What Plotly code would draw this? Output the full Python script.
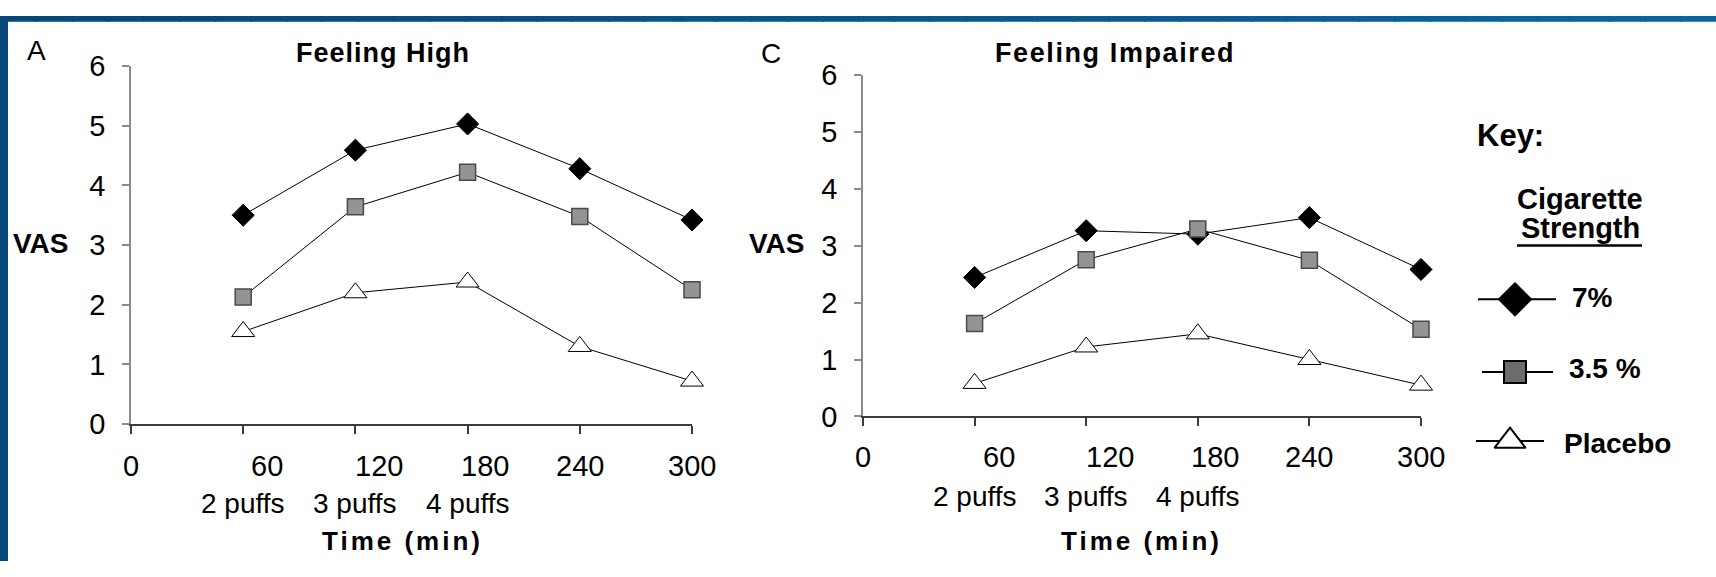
import plotly.graph_objects as go

W, H = 1716, 577

# ---- data -------------------------------------------------------------
minutes = [60, 120, 180, 240, 300]

high_7pct = [3.50, 4.59, 5.03, 4.28, 3.42]
high_35pct = [2.13, 3.64, 4.22, 3.48, 2.25]
high_placebo = [1.55, 2.20, 2.38, 1.30, 0.72]

impaired_7pct = [2.44, 3.26, 3.20, 3.49, 2.58]
impaired_35pct = [1.63, 2.75, 3.29, 2.74, 1.53]
impaired_placebo = [0.58, 1.22, 1.45, 1.00, 0.55]

x_tick_vals = [0, 60, 120, 180, 240, 300]
x_tick_text = ["0", "60", "120", "180", "240", "300"]
y_tick_vals = [0, 1, 2, 3, 4, 5, 6]
puff_times = [60, 120, 180]
puff_text = ["2 puffs", "3 puffs", "4 puffs"]
strength_names = ["7%", "3.5 %", "Placebo"]

# ---- styling ------------------------------------------------------------
FONT = "Arial, 'Liberation Sans', sans-serif"
TICK_LABEL_NUDGE = [0, 24, 24, 17, 0, 0]   # horizontal nudge of the time labels (px)

MARKERS = {
    "7%": dict(symbol="diamond", size=17, color="#000000",
               line=dict(color="#000000", width=1)),
    "3.5 %": dict(symbol="square", size=16, color="#949494",
                  line=dict(color="#4a4a4a", width=1.5)),
    "Placebo": dict(symbol="triangle-up", size=20, color="#ffffff",
                    line=dict(color="#000000", width=1)),
}
KEY_MARKERS = {
    "7%": dict(symbol="diamond", size=26, color="#000000",
               line=dict(color="#000000", width=1)),
    "3.5 %": dict(symbol="square", size=22, color="#6c6c6c",
                  line=dict(color="#000000", width=2)),
    "Placebo": dict(symbol="triangle-up", size=27, color="#ffffff",
                    line=dict(color="#000000", width=2)),
}


def px(x):
    return x / W


def py(y):
    return 1 - y / H


fig = go.Figure()

panels = [
    dict(x="x", y="y", series=[high_7pct, high_35pct, high_placebo]),
    dict(x="x2", y="y2", series=[impaired_7pct, impaired_35pct, impaired_placebo]),
]
for p in panels:
    for name, vals in zip(strength_names, p["series"]):
        fig.add_trace(go.Scatter(
            x=minutes, y=vals, xaxis=p["x"], yaxis=p["y"],
            mode="lines+markers", name=name, showlegend=False,
            line=dict(color="#000000", width=1),
            marker=MARKERS[name], cliponaxis=False, hoverinfo="x+y+name",
        ))

# ---- axes -----------------------------------------------------------------
def x_axis(domain, anchor):
    return dict(domain=domain, anchor=anchor, range=[0, 300],
                showline=True, linecolor="#3c3c3c", linewidth=1.5,
                ticks="outside", ticklen=8, tickcolor="#3c3c3c", tickwidth=1.5,
                tickvals=x_tick_vals, showticklabels=False,
                showgrid=False, zeroline=False, fixedrange=True)


def y_axis(domain, anchor):
    return dict(domain=domain, anchor=anchor, range=[0, 6],
                showline=True, linecolor="#8a8a8a", linewidth=1.5,
                ticks="outside", ticklen=7, tickcolor="#8a8a8a", tickwidth=1.5,
                tickvals=y_tick_vals, ticklabelstandoff=11,
                tickfont=dict(family=FONT, size=29, color="#000000"),
                showgrid=False, zeroline=False, fixedrange=True)


layout = dict(
    width=W, height=H, autosize=False,
    margin=dict(l=0, r=0, t=0, b=0),
    paper_bgcolor="#ffffff", plot_bgcolor="rgba(0,0,0,0)",
    font=dict(family=FONT, color="#000000"),
    xaxis=x_axis([px(131), px(692)], "y"),
    yaxis=y_axis([py(432), py(53)], "x"),
    xaxis2=x_axis([px(863), px(1421)], "y2"),
    yaxis2=y_axis([py(424), py(62)], "x2"),
    xaxis3=dict(domain=[px(1440), 1], range=[1440, 1716], visible=False,
                fixedrange=True, anchor="y3"),
    yaxis3=dict(domain=[0, 1], range=[577, 0], visible=False,
                fixedrange=True, anchor="x3"),
)
fig.update_layout(**layout)

annotations = []


def text(x, y, s, size, xref="paper", yref="paper", bold=False,
         xanchor="center", xshift=0, spacing=0):
    body = f"<b>{s}</b>" if bold else s
    if spacing:
        body = f'<span style="letter-spacing:{spacing}px">{body}</span>'
    annotations.append(dict(
        x=x, y=y, xref=xref, yref=yref, text=body, showarrow=False,
        xanchor=xanchor, yanchor="middle", xshift=xshift,
        font=dict(family=FONT, size=size, color="#000000")))


panel_text = [
    dict(xref="x", letter="A", letter_x=36, letter_y=37, title="Feeling High",
         title_x=383, title_y=39, title_sp=1, vas_x=41, tick_y=476,
         puff_y=516, time_x=402, time_y=556),
    dict(xref="x2", letter="C", letter_x=771, letter_y=40, title="Feeling Impaired",
         title_x=1115, title_y=39, title_sp=1.6, vas_x=777, tick_y=467,
         puff_y=509, time_x=1141, time_y=556),
]
for t in panel_text:
    text(px(t["letter_x"]), py(t["letter_y"]), t["letter"], 28)
    text(px(t["title_x"]), py(t["title_y"]), t["title"], 27, bold=True,
         spacing=t["title_sp"])
    text(px(t["vas_x"]), py(241), "VAS", 28, bold=True)
    for v, lab, nudge in zip(x_tick_vals, x_tick_text, TICK_LABEL_NUDGE):
        text(v, py(t["tick_y"]), lab, 29, xref=t["xref"], xshift=nudge)
    for v, lab in zip(puff_times, puff_text):
        text(v, py(t["puff_y"]), lab, 28, xref=t["xref"])
    text(px(t["time_x"]), py(t["time_y"]), "Time (min)", 26, bold=True, spacing=3)

# ---- key --------------------------------------------------------------------
key_rows = [
    dict(name="7%", y=300, x0=1478, x1=1556, xm=1515, tx=1570, ty=298),
    dict(name="3.5 %", y=377, x0=1482, x1=1553, xm=1515, tx=1567, ty=373),
    dict(name="Placebo", y=450, x0=1476, x1=1544, xm=1510, tx=1562, ty=453),
]
for r in key_rows:
    fig.add_trace(go.Scatter(
        x=[r["x0"], r["x1"]], y=[r["y"], r["y"]], xaxis="x3", yaxis="y3",
        mode="lines", line=dict(color="#000000", width=2),
        showlegend=False, hoverinfo="skip"))
    fig.add_trace(go.Scatter(
        x=[r["xm"]], y=[r["y"]], xaxis="x3", yaxis="y3", mode="markers",
        marker=KEY_MARKERS[r["name"]], showlegend=False, hoverinfo="skip",
        cliponaxis=False))
    text(r["tx"], r["ty"], r["name"], 28, xref="x3", yref="y3", bold=True,
         xanchor="left")

text(1475, 127, "Key:", 31, xref="x3", yref="y3", bold=True, xanchor="left")
text(1580, 194, "Cigarette", 29, xref="x3", yref="y3", bold=True)
text(1580, 224, "Strength", 29, xref="x3", yref="y3", bold=True)

# ---- frame ------------------------------------------------------------------
shapes = [
    dict(type="line", xref="x3", yref="y3", x0=1517, x1=1642, y0=243, y1=243,
         line=dict(color="#000000", width=2.5)),
    dict(type="rect", xref="paper", yref="paper", x0=0, x1=px(8), y0=0, y1=1,
         fillcolor="#074679", line=dict(width=0), layer="above"),
]
c0, c1 = (7, 70, 121), (8, 101, 161)
n_seg = 48
for i in range(n_seg):
    f = i / (n_seg - 1)
    col = tuple(round(a + (b - a) * f) for a, b in zip(c0, c1))
    shapes.append(dict(
        type="rect", xref="paper", yref="paper",
        x0=i / n_seg, x1=(i + 1) / n_seg + 0.001, y0=py(6), y1=1,
        fillcolor="rgb(%d,%d,%d)" % col, line=dict(width=0), layer="above"))

fig.update_layout(annotations=annotations, shapes=shapes)

# pin the graph to the page's top-left corner with no page margin or scrolling
PIN_GRAPH = (
    "var gd = document.getElementById('{plot_id}');"
    "gd.style.position = 'fixed'; gd.style.left = '0px'; gd.style.top = '0px';"
    "document.body.style.margin = '0px';"
    "document.body.style.overflow = 'hidden';"
    "document.documentElement.style.overflow = 'hidden';"
)
fig.write_html("out.html", post_script=PIN_GRAPH)
